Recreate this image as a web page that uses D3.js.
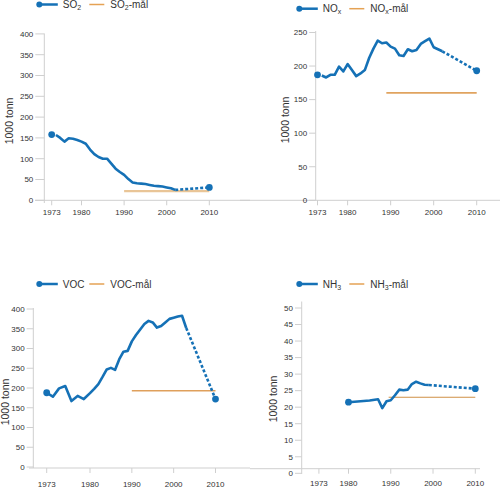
<!DOCTYPE html>
<html><head><meta charset="utf-8">
<script src="https://cdn.jsdelivr.net/npm/d3@7"></script>
<style>
html,body{margin:0;padding:0;background:#fff;}
svg{display:block;font-family:"Liberation Sans",Arial,Helvetica,sans-serif;}
</style></head>
<body>
<svg id="chart" width="500" height="497"></svg>
<script>
// ---------- DATA ----------
const xTickYears = [1973, 1980, 1990, 2000, 2010];

// SO2 (1000 tonn)
const so2Start = [1973, 158];
const so2Years = [1974,1975,1976,1977,1978,1979,1980,1981,1982,1983,1984,1985,1986,1987,1988,1989,1990,1991,1992,1993,1994,1995,1996,1997,1998,1999,2000,2001,2002];
const so2Values = [157,150,141,149,148,145,141,136,122,111,104,100,100,88,76,68,61,51,43,41,40,39,37,35,34,33,31,29,25];
const so2End = [2010, 31];
const so2Target = [[1990, 22], [2010, 22]];
const so2YTicks = [0,50,100,150,200,250,300,350,400];

// NOx
const noxStart = [1973, 187];
const noxYears = [1974,1975,1976,1977,1978,1979,1980,1981,1982,1983,1984,1985,1986,1987,1988,1989,1990,1991,1992,1993,1994,1995,1996,1997,1998,1999,2000,2001,2002];
const noxValues = [186,183,187,187,199,192,203,194,185,189,194,212,226,238,234,235,229,226,216,215,225,222,224,233,237,241,228,225,222];
const noxEnd = [2010, 193];
const noxTarget = [[1989, 160], [2010, 160]];
const noxYTicks = [0,50,100,150,200,250];

// VOC
const vocStart = [1973, 188];
const vocYears = [1973,1974,1975,1976,1977,1978,1979,1980,1981,1982,1983,1984,1985,1986,1987,1988,1989,1990,1991,1992,1993,1994,1995,1996,1997,1998,1999,2000,2001,2002,2003];
const vocValues = [188,178,199,205,167,180,172,187,198,210,228,247,251,246,273,292,294,318,334,348,362,370,366,353,357,366,375,378,381,383,352];
const vocEnd = [2010, 172];
const vocTarget = [[1990, 193], [2010, 193]];
const vocYTicks = [0,50,100,150,200,250,300,350,400];

// NH3
const nh3Start = [1980, 21.5];
const nh3Years = [1980,1985,1987,1988,1989,1990,1991,1992,1993,1994,1995,1996,1997,1998,1999];
const nh3Values = [21.5,22.0,22.4,19.7,21.8,22.1,23.6,25.3,25.1,25.3,27.0,27.7,27.2,26.8,26.7];
const nh3End = [2010, 25.6];
const nh3Target = [[1989.5, 23], [2010, 23]];
const nh3YTicks = [0,5,10,15,20,25,30,35,40,45,50];

// ---------- LAYOUT ----------
const BLUE = "#1571b6";
const TEXT = "#333";
const GRID = "#cfcfcf";

const panels = [
  { name:"SO", sub:"2", start:so2Start, years:so2Years, values:so2Values, end:so2End, target:so2Target, yTicks:so2YTicks,
    xDomain:[1973,2010], xRange:[51.7,209.3], yDomain:[0,400], yRange:[200.3,33.9],
    yAxisX:44.3, yAxisTop:33.5, yAxisBottom:203, tickLen:9,
    xAxisY:200.3, xAxisFrom:35, xAxisTo:250, xLabelY:215,
    yTitleX:13, yTitleY:121, legendY:4.5, legendX:39.3,
    targetColor:"#e9c597", targetWidth:2.2 },
  { name:"NO", sub:"x", start:noxStart, years:noxYears, values:noxValues, end:noxEnd, target:noxTarget, yTicks:noxYTicks,
    xDomain:[1973,2010], xRange:[317.5,476.7], yDomain:[0,250], yRange:[200.3,32.5],
    yAxisX:315.7, yAxisTop:31, yAxisBottom:200.3, tickLen:6.5,
    xAxisY:200.3, xAxisFrom:240, xAxisTo:500, xLabelY:215,
    yTitleX:289, yTitleY:120, legendY:8.7, legendX:299.3,
    targetColor:"#e0a35f", targetWidth:1.6 },
  { name:"VOC", sub:"", start:vocStart, years:vocYears, values:vocValues, end:vocEnd, target:vocTarget, yTicks:vocYTicks,
    xDomain:[1973,1980,2010], xRange:[46.7,90,215.5], yDomain:[0,400], yRange:[467,309],
    yAxisX:33.3, yAxisTop:308, yAxisBottom:468, tickLen:6.7,
    xAxisY:468, xAxisFrom:29, xAxisTo:250, xLabelY:487,
    yTitleX:9, yTitleY:402, legendY:284, legendX:39.3,
    targetColor:"#dfa05c", targetWidth:1.5 },
  { name:"NH", sub:"3", start:nh3Start, years:nh3Years, values:nh3Values, end:nh3End, target:nh3Target, yTicks:nh3YTicks,
    xDomain:[1973,2010], xRange:[318.9,475.3], yDomain:[0,50], yRange:[473.3,308],
    yAxisX:301.7, yAxisTop:301.5, yAxisBottom:474, tickLen:6.7,
    xAxisY:468.7, xAxisFrom:250, xAxisTo:480, xLabelY:486,
    yTitleX:276.5, yTitleY:399, legendY:284, legendX:299.3,
    targetColor:"#cf8f45", targetWidth:1.2 }
];

const svg = d3.select("#chart");

function addLabel(sel, p, suffix) {
  sel.append("tspan").text(p.name);
  if (p.sub) sel.append("tspan").attr("font-size", 7).attr("dy", 2).text(p.sub);
  if (suffix) sel.append("tspan").attr("dy", p.sub ? -2 : 0).text(suffix);
}

panels.forEach(p => {
  const g = svg.append("g");
  const x = d3.scaleLinear().domain(p.xDomain).range(p.xRange);
  const y = d3.scaleLinear().domain(p.yDomain).range(p.yRange);

  // axes lines
  g.append("line").attr("x1", p.xAxisFrom).attr("x2", p.xAxisTo)
    .attr("y1", p.xAxisY).attr("y2", p.xAxisY).attr("stroke", GRID).attr("stroke-width", 1);
  g.append("line").attr("x1", p.yAxisX).attr("x2", p.yAxisX)
    .attr("y1", p.yAxisTop).attr("y2", p.yAxisBottom).attr("stroke", GRID).attr("stroke-width", 1);

  // y ticks
  const yt = g.selectAll(".yt").data(p.yTicks).enter().append("g");
  yt.append("line").attr("x1", p.yAxisX - p.tickLen).attr("x2", p.yAxisX)
    .attr("y1", d => y(d)).attr("y2", d => y(d)).attr("stroke", GRID);
  yt.append("text").attr("x", p.yAxisX - p.tickLen - 2).attr("y", d => y(d))
    .attr("dy", "0.35em").attr("text-anchor", "end").attr("font-size", 8).attr("fill", TEXT)
    .text(d => d);

  // x ticks
  const xt = g.selectAll(".xt").data(xTickYears).enter().append("g");
  xt.append("line").attr("x1", d => x(d)).attr("x2", d => x(d))
    .attr("y1", p.xAxisY).attr("y2", p.xAxisY + 5).attr("stroke", GRID);
  xt.append("text").attr("x", d => x(d)).attr("y", p.xLabelY)
    .attr("text-anchor", "middle").attr("font-size", 8).attr("fill", TEXT).text(d => d);

  // y title
  g.append("text").attr("transform", `translate(${p.yTitleX},${p.yTitleY}) rotate(-90)`)
    .attr("text-anchor", "middle").attr("font-size", 10.5).attr("fill", TEXT).text("1000 tonn");

  // target line
  g.append("path").datum(p.target)
    .attr("d", d3.line().x(d => x(d[0])).y(d => y(d[1])))
    .attr("fill", "none").attr("stroke", p.targetColor).attr("stroke-width", p.targetWidth);

  // main series
  const pts = p.years.map((yr, i) => [yr, p.values[i]]);
  const line = d3.line().x(d => x(d[0])).y(d => y(d[1]));
  g.append("path").datum(pts).attr("d", line)
    .attr("fill", "none").attr("stroke", BLUE).attr("stroke-width", 2.6)
    .attr("stroke-linejoin", "round");

  // projection (dashed)
  const proj = [pts[pts.length - 1], p.end];
  g.append("path").datum(proj).attr("d", line)
    .attr("fill", "none").attr("stroke", BLUE).attr("stroke-width", 2.6)
    .attr("stroke-dasharray", "3,2");

  // dots
  g.selectAll(".dot").data([p.start, p.end]).enter().append("circle")
    .attr("cx", d => x(d[0])).attr("cy", d => y(d[1])).attr("r", 3.4).attr("fill", BLUE);

  // legend
  const lx = p.legendX, ly = p.legendY;
  g.append("circle").attr("cx", lx).attr("cy", ly).attr("r", 3).attr("fill", BLUE);
  g.append("line").attr("x1", lx).attr("x2", lx + 18.5).attr("y1", ly).attr("y2", ly)
    .attr("stroke", BLUE).attr("stroke-width", 2.5);
  const t1 = g.append("text").attr("x", lx + 23.5).attr("y", ly).attr("dy", "0.35em")
    .attr("font-size", 10).attr("fill", TEXT);
  addLabel(t1, p, "");
  g.append("line").attr("x1", lx + 50).attr("x2", lx + 65).attr("y1", ly).attr("y2", ly)
    .attr("stroke", "#e5a254").attr("stroke-width", 1.5);
  const t2 = g.append("text").attr("x", lx + 71).attr("y", ly).attr("dy", "0.35em")
    .attr("font-size", 10).attr("fill", TEXT);
  addLabel(t2, p, "-mål");
});
</script>
</body></html>
